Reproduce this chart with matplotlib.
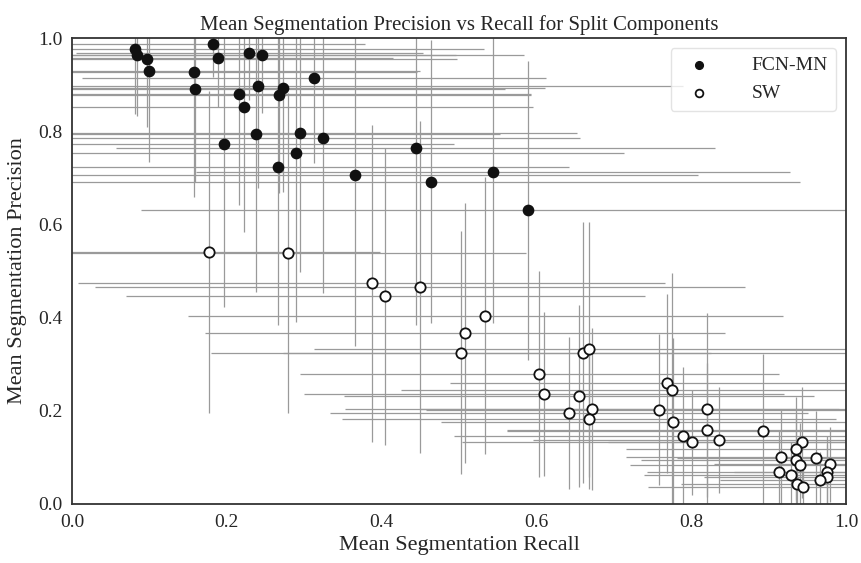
import matplotlib
matplotlib.use("Agg")
import matplotlib.pyplot as plt
import seaborn as sns

sns.set_style("white")
plt.rcParams['font.family'] = ['Liberation Serif', 'DejaVu Serif']

# FCN-MN series
fcn_recall = [0.082, 0.084, 0.097, 0.100, 0.182, 0.189, 0.157, 0.159, 0.229, 0.246,
              0.313, 0.240, 0.273, 0.267, 0.216, 0.222, 0.238, 0.295, 0.324, 0.196,
              0.289, 0.266, 0.366, 0.444, 0.464, 0.544, 0.589]
fcn_precision = [0.976, 0.963, 0.956, 0.929, 0.987, 0.958, 0.928, 0.891, 0.968, 0.963,
                 0.914, 0.896, 0.893, 0.878, 0.880, 0.851, 0.793, 0.796, 0.786, 0.772,
                 0.753, 0.724, 0.705, 0.764, 0.692, 0.712, 0.630]
fcn_recall_err = [0.45, 0.50, 0.40, 0.35, 0.196, 0.226, 0.289, 0.40, 0.224, 0.25,
                  0.30, 0.55, 0.338, 0.326, 0.377, 0.374, 0.315, 0.357, 0.332, 0.297,
                  0.424, 0.376, 0.443, 0.387, 0.476, 0.384, 0.50]
fcn_precision_err = [0.14, 0.13, 0.146, 0.196, 0.07, 0.106, 0.27, 0.20, 0.10, 0.123,
                     0.183, 0.218, 0.223, 0.21, 0.238, 0.267, 0.337, 0.298, 0.334, 0.349,
                     0.362, 0.34, 0.367, 0.38, 0.303, 0.324, 0.32]

# SW series
sw_recall = [0.177, 0.279, 0.387, 0.405, 0.450, 0.534, 0.508, 0.503, 0.604, 0.610,
             0.660, 0.668, 0.655, 0.642, 0.672, 0.668, 0.769, 0.775, 0.758, 0.777,
             0.820, 0.821, 0.790, 0.801, 0.836, 0.893, 0.943, 0.936, 0.916, 0.961,
             0.935, 0.941, 0.979, 0.913, 0.929, 0.975, 0.976, 0.967, 0.937, 0.944]
sw_precision = [0.541, 0.538, 0.474, 0.446, 0.466, 0.404, 0.366, 0.325, 0.279, 0.236,
                0.325, 0.332, 0.232, 0.195, 0.204, 0.182, 0.259, 0.245, 0.202, 0.176,
                0.204, 0.159, 0.145, 0.132, 0.137, 0.157, 0.132, 0.119, 0.101, 0.099,
                0.094, 0.083, 0.085, 0.069, 0.062, 0.069, 0.058, 0.051, 0.042, 0.037]
sw_recall_err = [0.221, 0.308, 0.379, 0.335, 0.42, 0.384, 0.336, 0.323, 0.309, 0.31,
                 0.388, 0.355, 0.304, 0.309, 0.319, 0.319, 0.281, 0.35, 0.30, 0.30,
                 0.371, 0.259, 0.297, 0.297, 0.24, 0.331, 0.25, 0.22, 0.20, 0.18,
                 0.20, 0.22, 0.15, 0.17, 0.19, 0.12, 0.16, 0.13, 0.15, 0.20]
sw_precision_err = [0.346, 0.343, 0.34, 0.319, 0.356, 0.297, 0.279, 0.26, 0.222, 0.175,
                    0.28, 0.273, 0.196, 0.163, 0.174, 0.15, 0.192, 0.25, 0.162, 0.18,
                    0.205, 0.143, 0.15, 0.112, 0.114, 0.165, 0.119, 0.11, 0.10, 0.10,
                    0.10, 0.09, 0.08, 0.09, 0.07, 0.077, 0.07, 0.06, 0.05, 0.05]

fig = plt.figure(figsize=(8.61, 5.63), dpi=100)
ax = fig.add_axes([0.0836, 0.1048, 0.8990, 0.8277])

ecol = '#9a9a9a'
ax.errorbar(fcn_recall, fcn_precision, xerr=fcn_recall_err, yerr=fcn_precision_err,
            fmt='none', ecolor=ecol, elinewidth=0.9, zorder=1)
ax.errorbar(sw_recall, sw_precision, xerr=sw_recall_err, yerr=sw_precision_err,
            fmt='none', ecolor=ecol, elinewidth=0.9, zorder=1)

ax.scatter(fcn_recall, fcn_precision, s=55, c='#111111', edgecolors='#111111',
           linewidths=1.0, zorder=3, label='FCN-MN')
ax.scatter(sw_recall, sw_precision, s=55, c='white', edgecolors='#111111',
           linewidths=1.3, zorder=3, label='SW')

ax.set_xlim(0, 1)
ax.set_ylim(0, 1)
ax.set_xticks([0.0, 0.2, 0.4, 0.6, 0.8, 1.0])
ax.set_yticks([0.0, 0.2, 0.4, 0.6, 0.8, 1.0])
ax.tick_params(labelsize=14, length=0, pad=7)

ax.set_title('Mean Segmentation Precision vs Recall for Split Components', fontsize=15, pad=6)
ax.set_xlabel('Mean Segmentation Recall', fontsize=16, labelpad=4)
ax.set_ylabel('Mean Segmentation Precision', fontsize=16, labelpad=8)

for sp in ax.spines.values():
    sp.set_color('#333333')
    sp.set_linewidth(1.3)

leg = ax.legend(loc='upper right', fontsize=14, frameon=True, borderpad=0.45,
                handletextpad=1.7, labelspacing=0.55, markerscale=0.75,
                borderaxespad=0.5)
leg.get_frame().set_edgecolor('#dddddd')

fig.savefig('out.png', dpi=100)
